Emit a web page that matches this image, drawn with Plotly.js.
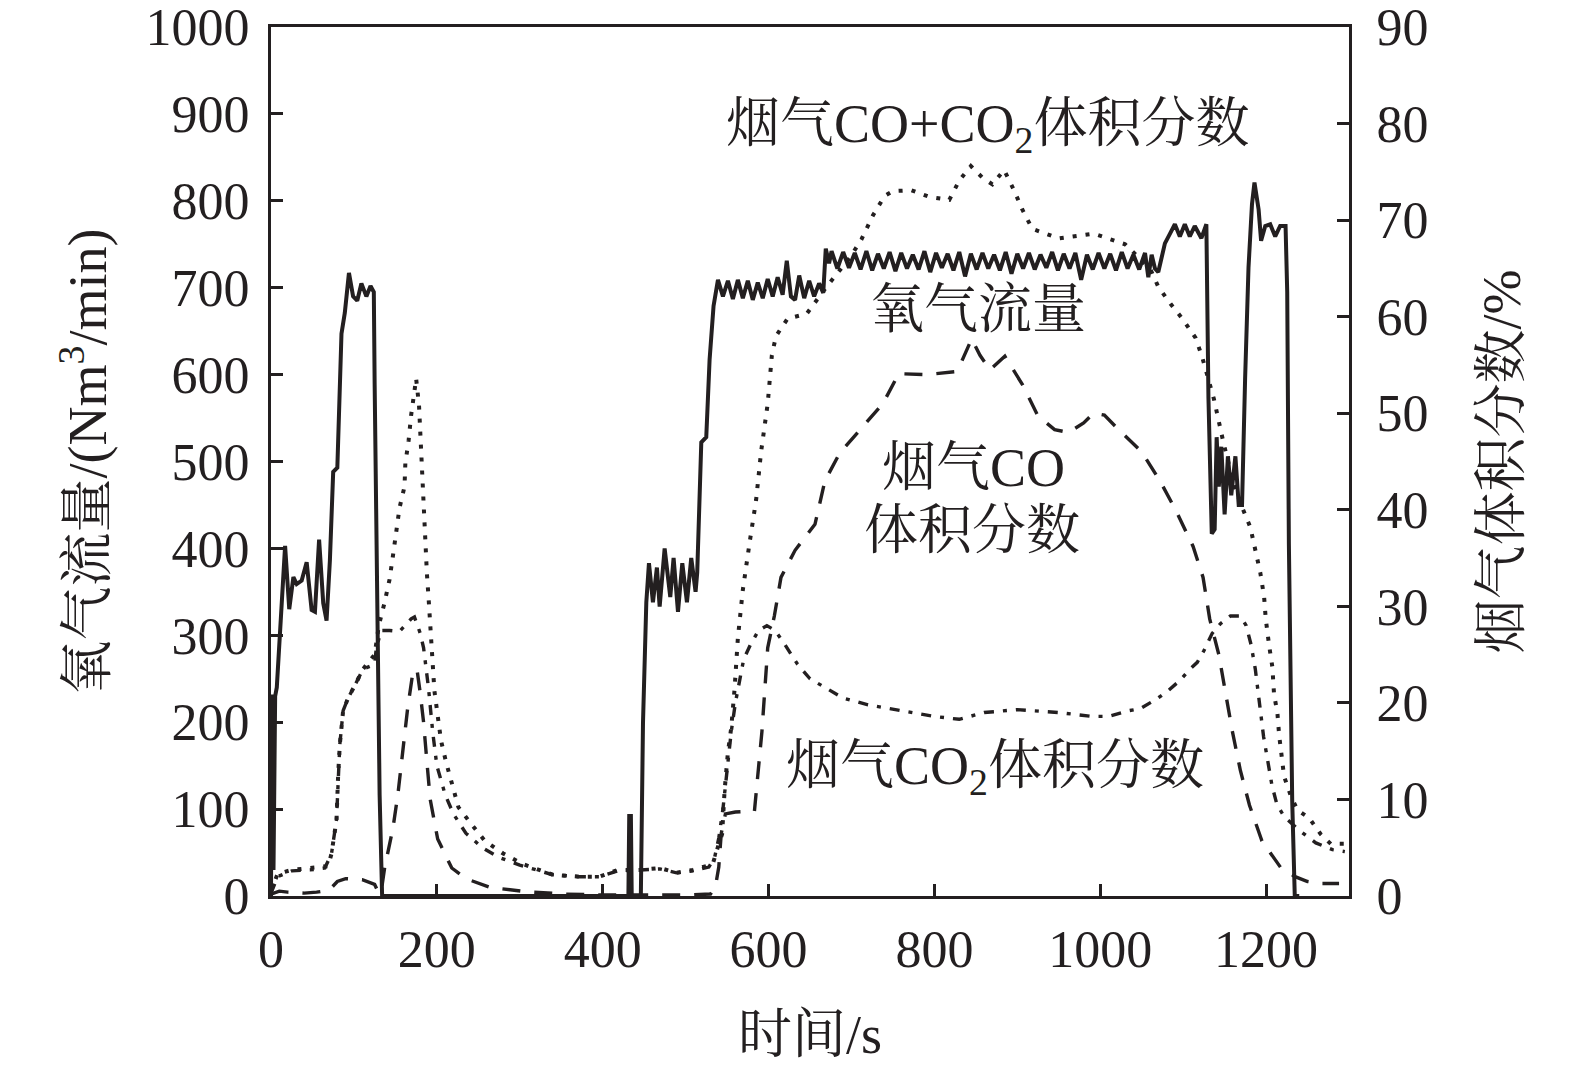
<!DOCTYPE html>
<html>
<head>
<meta charset="utf-8">
<script src="https://cdn.plot.ly/plotly-3.0.1.min.js"></script>
<style>
  html, body { margin: 0; padding: 0; background: #ffffff; }
  #grafico { width: 1575px; height: 1070px; }
</style>
</head>
<body>
<div id="grafico"></div>
<script>
"use strict";

// 氧气流量 (Nm3/min), eje izquierdo
const tiempoO2 = [0, 1, 3, 5, 7, 11, 17, 22, 27, 31, 37, 43, 49, 53, 58, 63, 67, 71, 75, 80, 85, 89, 94, 99, 104, 109, 115, 120, 124, 125, 127, 129, 131, 134,
    431, 432, 434, 435, 446, 448.6, 452.6, 455.8, 460.6, 465.4, 468.7, 474.7, 481.5, 485.5, 490.8, 496, 501.6, 506.8, 512, 514, 518.9, 524.9, 528.9, 533.7, 539,
    545, 551, 557, 563, 569, 575, 581, 587, 593, 599, 605, 611, 617, 622, 627, 632, 637, 643, 649, 655, 661, 666, 669, 673,
    676, 683, 690, 697, 704, 711, 718, 725, 732, 739, 746, 753, 760, 767, 774, 781, 788, 795, 802, 809, 816, 823, 830, 837, 844, 851, 858, 865, 872, 879,
    886, 893, 900, 907, 914, 921, 928, 935, 942, 949, 956, 963, 970, 977, 984, 991, 998, 1005, 1012, 1019, 1026, 1033, 1040, 1047, 1054, 1058, 1062, 1066, 1070,
    1078, 1084, 1090, 1096, 1102, 1108, 1114, 1122, 1128, 1130.5, 1134.5, 1138, 1140.4, 1143, 1146, 1150, 1154, 1158, 1163, 1167, 1171, 1174.7, 1178.8,
    1183, 1186, 1191, 1194, 1199, 1205, 1211, 1217, 1223.5, 1225.5, 1227.5, 1231.5, 1234.6, 1240];
const flujoO2 = [0, 232, 30, 230, 240, 300, 403, 330, 367, 359, 363, 384, 329, 327, 410, 337, 317, 386, 488, 493, 647, 671, 717, 690, 685, 705, 690, 702, 695, 589, 406, 198, 116, 0,
    0, 92, 92, 0, 0, 199, 338, 383, 338, 378, 333, 400, 344, 389, 327, 383, 338, 389, 350, 372, 522, 528, 617, 679, 709,
    690, 708, 687, 709, 688, 708, 686, 706, 688, 710, 690, 712, 692, 731, 690, 686, 714, 688, 708, 690, 705, 694, 745, 728,
    742, 722, 741, 723, 740, 721, 742, 720, 739, 722, 741, 719, 740, 722, 738, 721, 742, 718, 740, 723, 739, 720, 741, 713, 739, 721, 740, 722, 738, 720,
    741, 716, 739, 722, 740, 721, 738, 723, 741, 720, 739, 722, 740, 709, 738, 721, 740, 722, 739, 720, 741, 722, 738, 721, 740, 712, 738, 722, 718,
    751, 762, 773, 759, 773, 759, 771, 757, 773, 573, 417, 422, 528, 471, 517, 439, 506, 461, 506, 450, 450, 595, 723,
    796, 821, 790, 754, 771, 773, 759, 771, 771, 695, 405, 110, 0, 0];

// 烟气CO+CO2体积分数 (%), eje derecho
const tiempoSuma = [0, 8, 25, 47, 69, 73, 79, 81, 83, 87, 93, 101, 111, 125, 130, 137, 143, 147, 151, 155, 161, 162, 166, 169, 173.5, 175, 178.5, 181, 183,
    184, 185, 187, 188, 190, 192, 194, 195, 197, 201, 205, 211, 218, 226, 242, 258, 280, 304, 340, 372, 396, 418, 445, 469, 489, 509, 525, 533, 539, 544,
    547, 551, 555, 559, 563, 569, 577, 585, 591, 599, 604, 609, 623, 646, 670, 698, 712, 726, 740, 750, 772, 794, 818, 830, 844, 858, 870, 884, 896, 906,
    918, 950, 992, 1030, 1060, 1070, 1085, 1099, 1115, 1123, 1137, 1143, 1149, 1160, 1170, 1181, 1187, 1193, 1197.6, 1199.6, 1203.6, 1207.6, 1209.6,
    1213.7, 1215.7, 1218.5, 1221.7, 1229.7, 1237.8, 1251.8, 1265.9, 1278, 1295];
const fraccionSuma = [0.5, 2.3, 2.7, 2.9, 3.1, 4.4, 7.9, 12.6, 15.7, 19.2, 20.5, 21.8, 23.5, 25, 28, 30.4, 32.8, 35.2, 37.6, 40.2, 42.4, 44.8, 47.2, 49.8, 52.6, 53.6, 50.8, 45.8, 43.2,
    40.9, 38.4, 35.9, 33.4, 30.9, 28.5, 26.1, 23.5, 21.3, 18.7, 16.1, 13.9, 11.6, 9.2, 7.4, 5.7, 4.4, 3.3, 2.2, 2.0, 2.0, 2.7, 2.7, 2.9, 2.4, 2.7, 3.1, 3.4, 5.1, 6.4,
    10.9, 14.9, 17.4, 21.4, 26.7, 31.7, 36.5, 41, 46, 51, 56, 58, 59.8, 60.3, 63.1, 66.1, 68, 70.5, 72.5, 73, 73.1, 72.4, 72.1, 74.1, 75.6, 74.4, 73.7, 75.2, 73.1, 71.1,
    69.1, 68.1, 68.6, 67.5, 65, 63.1, 61.3, 59.8, 57.8, 55.8, 51.5, 49, 46.8, 43, 40.5, 38.2, 36, 33.5, 31, 28.7, 26, 23.7, 20.9,
    18.9, 16.7, 14.9, 12.4, 10.4, 8.9, 8.1, 6.4, 5.4, 5.4];

// 烟气CO体积分数 (%)
const tiempoCO = [0, 10, 20, 40, 55, 70, 80, 90, 110, 125, 130, 133, 137, 147, 153, 159, 165, 171, 176, 180, 184, 188, 192, 201, 218, 235, 264, 307, 355, 400,
    440, 500, 530, 536, 540, 543, 548, 560, 583, 587.6, 592, 599, 607, 615, 632, 656, 668, 686, 703, 738, 757, 790, 825, 831, 845, 855, 867, 885, 906, 925,
    945, 962, 980, 992, 1005, 1021, 1050, 1072, 1092, 1112, 1124, 1132, 1143, 1150, 1159, 1169, 1180, 1195, 1218, 1235, 1250, 1266, 1288];
const fraccionCO = [0.2, 0.5, 0.4, 0.3, 0.4, 0.6, 1.5, 1.8, 1.7, 1.2, 0.3, 0.5, 2.9, 7.0, 10.5, 14.8, 19.6, 23.1, 23.5, 21, 18, 13.9, 10.0, 5.9, 2.9, 1.8, 0.9, 0.45, 0.2, 0.1,
    0.1, 0.1, 0.2, 1.0, 3, 6.5, 8.5, 8.7, 8.8, 13.5, 17, 25.7, 29, 33, 35.8, 38.5, 43, 45.9, 47.6, 51, 54.1, 54, 54.3, 55, 57.7, 56, 54.5, 55.9, 53, 49.7,
    48.3, 48, 49, 50, 49.8, 48.4, 46, 43, 39.8, 36.2, 33, 28.7, 25, 21.6, 17.2, 13, 9.4, 5.7, 2.9, 2.0, 1.5, 1.3, 1.3];

// 烟气CO2体积分数 (%)
const tiempoCO2 = [0, 8, 25, 47, 65, 73, 79, 81, 83, 87, 93, 101, 111, 125, 127, 133, 143, 155, 169, 173, 180, 184, 190, 195, 200, 210, 220, 235, 255, 275,
    300, 340, 372, 396, 418, 445, 469, 489, 509, 528, 535, 540, 545, 550, 555, 560, 565, 570, 578, 588, 598, 608, 620, 635, 650, 670, 690, 720, 760, 800,
    830, 860, 900, 950, 990, 1010, 1035, 1048, 1068, 1081, 1097, 1107, 1117, 1125, 1135, 1145, 1157, 1169, 1176, 1182, 1187, 1192, 1197, 1202, 1207, 1213,
    1222, 1240, 1260, 1280, 1295];
const fraccionCO2 = [0.3, 2.0, 2.6, 2.7, 2.9, 4.4, 7.9, 12.6, 15.7, 19.2, 20.5, 21.8, 23.5, 24, 25.7, 27.5, 27.5, 27.4, 28.7, 28.9, 27.2, 25.7, 21.5, 17, 13.5, 10.5, 8.5, 6.5, 5.0, 4.0,
    3.2, 2.2, 2.0, 2.0, 2.6, 2.7, 2.8, 2.4, 2.6, 3.0, 4, 6, 9, 13, 17, 20, 22.5, 24.5, 26, 27.5, 28, 27.5, 26, 24, 22.5, 21.5, 20.5, 19.8, 19.2, 18.6,
    18.3, 19.0, 19.3, 19, 18.6, 18.6, 19.2, 19.4, 20.4, 21.2, 22.4, 23.4, 24.2, 25.4, 27.2, 28.2, 29.0, 29.0, 28, 26, 23.5, 20, 16.5, 14, 11.5, 9.5,
    8.2, 6.8, 5.5, 4.8, 4.6];

// Ticks de los ejes
const ticksX = [0, 200, 400, 600, 800, 1000, 1200];
const ticksIzq = [0, 100, 200, 300, 400, 500, 600, 700, 800, 900, 1000];
const ticksDer = [0, 10, 20, 30, 40, 50, 60, 70, 80, 90];

// Etiquetas dentro del gráfico
const sub2 = "<sub><span style='color:#231f20'>2</span></sub>";
const etiquetas = ["烟气CO+CO" + sub2 + "体积分数", "氧气流量", "烟气CO", "体积分数", "烟气CO" + sub2 + "体积分数"];

const fuente = "Liberation Serif, 'Noto Serif CJK SC', 'Noto Sans CJK SC', serif";
const negro = "#231f20";

const trazaO2 = {
    x: tiempoO2, y: flujoO2, type: "scatter", mode: "lines",
    line: { color: negro, width: 4 }, yaxis: "y", name: "氧气流量"
};
const trazaSuma = {
    x: tiempoSuma, y: fraccionSuma, type: "scatter", mode: "lines",
    line: { color: negro, width: 4, dash: "4px,9px" }, yaxis: "y2", name: "CO+CO2"
};
const trazaCO = {
    x: tiempoCO, y: fraccionCO, type: "scatter", mode: "lines",
    line: { color: negro, width: 3.4, dash: "18px,14px" }, yaxis: "y2", name: "CO"
};
const trazaCO2 = {
    x: tiempoCO2, y: fraccionCO2, type: "scatter", mode: "lines",
    line: { color: negro, width: 3.4, dash: "10px,9px,4px,9px" }, yaxis: "y2", name: "CO2"
};

const posiciones = [[0.665, 0.884], [0.656, 0.674], [0.652, 0.4925], [0.650, 0.420], [0.672, 0.145]];
const anotaciones = etiquetas.map((texto, i) => ({
    text: texto, xref: "paper", yref: "paper",
    x: posiciones[i][0], y: posiciones[i][1],
    xanchor: "center", yanchor: "middle", showarrow: false,
    font: { family: fuente, size: 54, color: negro }
}));

const ejeBase = {
    showgrid: false, zeroline: false,
    showline: true, linecolor: negro, linewidth: 3,
    ticks: "inside", ticklen: 12, tickwidth: 3, tickcolor: negro,
    ticklabeloverflow: "allow",
    tickfont: { family: fuente, size: 52, color: negro }
};

const layout = {
    width: 1575, height: 1070,
    margin: { l: 271, r: 226, t: 27, b: 174 },
    paper_bgcolor: "#ffffff", plot_bgcolor: "#ffffff",
    showlegend: false,
    font: { family: fuente, color: negro },
    xaxis: Object.assign({}, ejeBase, {
        range: [0, 1300], tickmode: "array", tickvals: ticksX,
        mirror: true, ticklabelstandoff: 6,
        title: { text: "时间/s", font: { family: fuente, size: 54, color: negro }, standoff: 38 }
    }),
    yaxis: Object.assign({}, ejeBase, {
        range: [0, 1000], tickmode: "array", tickvals: ticksIzq, ticklabelstandoff: 8,
        title: { text: "氧气流量/(Nm<sup>3</sup>/min)", font: { family: fuente, size: 54, color: negro }, standoff: 22 }
    }),
    yaxis2: Object.assign({}, ejeBase, {
        range: [0, 90], tickmode: "array", tickvals: ticksDer, overlaying: "y", side: "right", ticklabelstandoff: 14,
        title: { text: "烟气体积分数/%", font: { family: fuente, size: 54, color: negro }, standoff: 55 }
    }),
    annotations: anotaciones
};

Plotly.newPlot("grafico", [trazaSuma, trazaCO, trazaCO2, trazaO2], layout, { displayModeBar: false, staticPlot: true });
</script>
</body>
</html>
